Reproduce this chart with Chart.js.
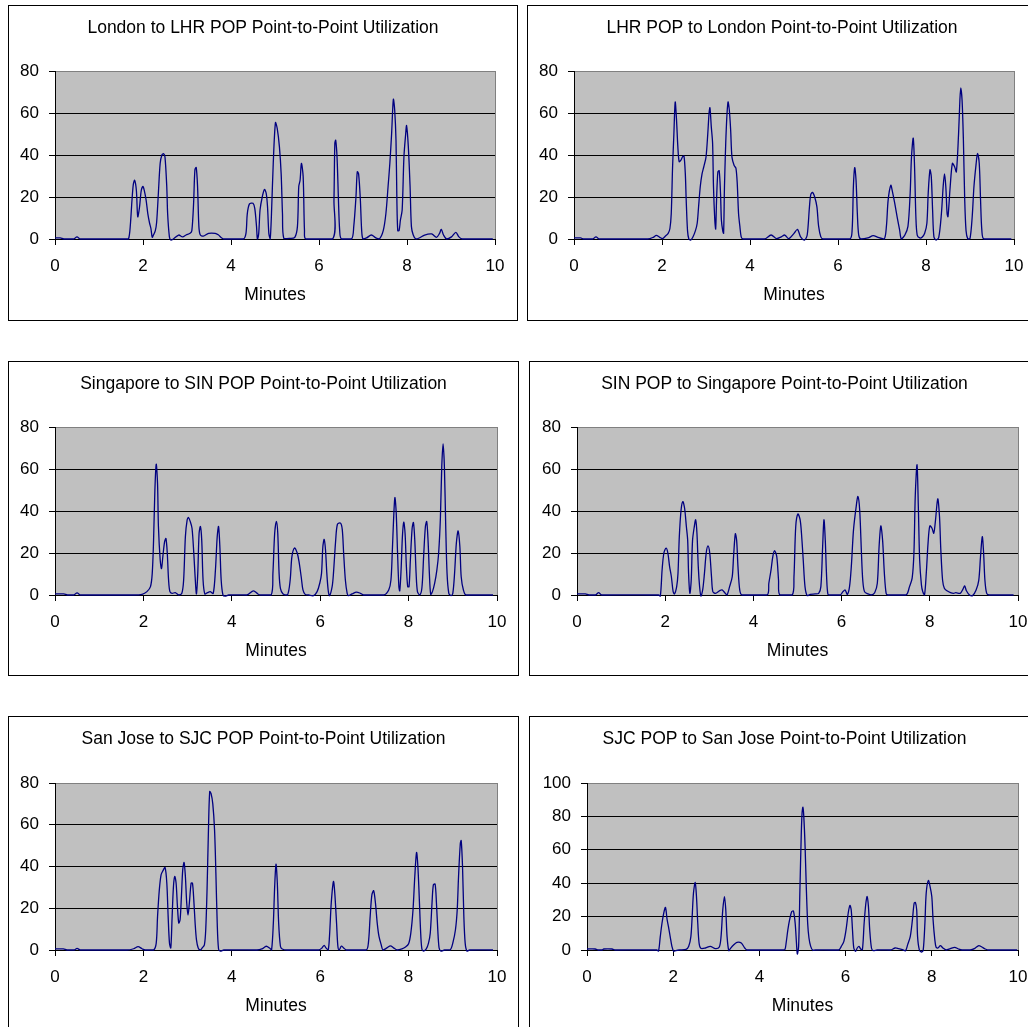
<!DOCTYPE html>
<html>
<head>
<meta charset="utf-8">
<script src="https://cdn.jsdelivr.net/npm/chart.js@4.4.1/dist/chart.umd.min.js"></script>
<style>
  html, body { margin: 0; padding: 0; background: #fff; width: 1028px; height: 1027px; overflow: hidden; }
  .panel { position: absolute; border: 1px solid #000; box-sizing: border-box; background: #fff; }
  .panel canvas { position: absolute; left: 0; top: 0; }
</style>
</head>
<body>
<div class="panel" id="p0"><canvas id="c0"></canvas></div>
<div class="panel" id="p1"><canvas id="c1"></canvas></div>
<div class="panel" id="p2"><canvas id="c2"></canvas></div>
<div class="panel" id="p3"><canvas id="c3"></canvas></div>
<div class="panel" id="p4"><canvas id="c4"></canvas></div>
<div class="panel" id="p5"><canvas id="c5"></canvas></div>
<script>
// ---- titles and axis ticks ----
const chartTitles = [
  'London to LHR POP Point-to-Point Utilization',
  'LHR POP to London Point-to-Point Utilization',
  'Singapore to SIN POP Point-to-Point Utilization',
  'SIN POP to Singapore Point-to-Point Utilization',
  'San Jose to SJC POP Point-to-Point Utilization',
  'SJC POP to San Jose Point-to-Point Utilization'
];
const xAxisTitle = 'Minutes';
const minuteTicks = [0, 2, 4, 6, 8, 10];
const utilTicks80 = [0, 20, 40, 60, 80];
const utilTicks100 = [0, 20, 40, 60, 80, 100];

// ---- utilization samples: [minute, utilization] ----
const londonToLhr = [
  [0,0.5],[0.12,0.5],[0.2,0],[0.42,0],[0.5,1],[0.58,0],[1.6,0],[1.67,0],[1.71,6],[1.75,18.6],[1.78,26],[1.81,28],
  [1.85,23],[1.88,10.6],[1.92,15],[1.96,23],[2.0,25],[2.03,23],[2.07,18.6],[2.11,12],[2.15,7.5],[2.18,5],[2.21,0.8],
  [2.24,2],[2.28,4],[2.31,8],[2.35,22],[2.39,36],[2.43,40],[2.47,40.6],[2.5,39],[2.54,25],[2.56,12],[2.6,1],[2.63,-0.5],
  [2.69,0],[2.81,1.9],[2.9,1],[2.98,1.9],[3.07,2.7],[3.11,4],[3.15,17],[3.18,33],[3.21,34],[3.24,25],[3.27,6],[3.3,2],
  [3.37,1.4],[3.49,2.7],[3.64,2.7],[3.71,2],[3.79,0.5],[3.84,0],[4.28,0],[4.34,2.7],[4.37,12],[4.42,16.7],[4.5,17],
  [4.54,14.6],[4.58,6],[4.6,0],[4.63,2.7],[4.66,13.8],[4.71,20],[4.76,23.6],[4.8,21.7],[4.83,15.4],[4.86,2.7],[4.89,0],
  [4.92,12],[4.96,36],[5.01,55.4],[5.05,52.7],[5.1,44],[5.14,31],[5.17,12],[5.2,0.3],[5.34,0.3],[5.45,0.8],[5.51,6],
  [5.54,25],[5.57,28],[5.6,36],[5.64,29.7],[5.67,4],[5.7,0],[6.31,0],[6.34,18.6],[6.36,45.6],[6.38,47],[6.41,39],
  [6.44,20],[6.47,4],[6.51,0],[6.74,0],[6.79,6],[6.84,20],[6.87,32],[6.9,31],[6.94,18.6],[6.97,4],[7.0,0],[7.08,0.5],
  [7.19,1.9],[7.29,0.5],[7.37,0],[7.46,4],[7.52,12],[7.57,25],[7.61,36],[7.65,50],[7.69,66.5],[7.72,61.4],[7.75,47],
  [7.77,18.6],[7.79,4],[7.82,4],[7.85,9],[7.89,13.8],[7.93,39],[7.97,50],[7.99,54],[8.03,44],[8.07,25],[8.1,6],[8.14,2],
  [8.2,0],[8.29,0.6],[8.4,1.9],[8.56,2.4],[8.67,0.8],[8.74,2.7],[8.78,4.6],[8.83,1.9],[8.9,0],[9.01,1],[9.11,3.2],
  [9.18,1],[9.26,0],[9.95,0]
];
const lhrToLondon = [
  [0,0.5],[0.15,0.5],[0.22,0],[0.42,0],[0.5,1],[0.58,0],[1.68,0],[1.8,0.8],[1.87,1.7],[1.95,0.8],[2.01,0.2],[2.08,1.4],
  [2.14,2.7],[2.18,5],[2.21,12],[2.24,34],[2.27,50],[2.3,65.2],[2.33,56.7],[2.36,44],[2.39,36.8],[2.43,37.6],[2.47,39.2],
  [2.5,39.5],[2.53,31],[2.55,18.6],[2.58,4],[2.61,0],[2.65,-0.5],[2.7,0.8],[2.76,4],[2.8,7.5],[2.83,15],[2.87,25],
  [2.91,31],[2.95,34.4],[3.0,39],[3.04,50],[3.07,60],[3.09,62.5],[3.12,53.5],[3.15,45.6],[3.17,25],[3.2,9],[3.22,4.8],
  [3.24,18.6],[3.27,32],[3.3,32.5],[3.33,21.7],[3.35,9],[3.38,4],[3.4,2.7],[3.42,25],[3.46,52],[3.5,65.2],[3.53,61.4],
  [3.56,52],[3.59,39],[3.64,35],[3.68,33.7],[3.71,26.5],[3.74,12],[3.77,6],[3.8,1],[3.84,0],[4.33,0],[4.48,1.9],
  [4.6,0.2],[4.71,1],[4.79,1.9],[4.88,0.2],[5.0,2.7],[5.08,4.6],[5.15,1],[5.24,-0.5],[5.3,1.9],[5.35,15],[5.38,21],
  [5.42,22.2],[5.47,20],[5.52,15.4],[5.56,6],[5.61,1],[5.66,0],[6.27,0],[6.32,4],[6.35,25],[6.38,34],[6.41,28],[6.44,12],
  [6.47,2],[6.52,0],[6.68,0.5],[6.8,1.6],[6.91,0.8],[7.05,0],[7.1,6],[7.14,18.6],[7.2,25.6],[7.23,23.3],[7.29,17],
  [7.35,9.8],[7.4,4.3],[7.44,0],[7.52,1.9],[7.59,6],[7.64,21.7],[7.67,39],[7.71,48],[7.74,34.4],[7.77,10.6],[7.8,1.9],
  [7.86,0.5],[7.91,0.8],[7.97,2.7],[8.02,7.5],[8.05,21.7],[8.09,32.9],[8.12,29.7],[8.15,13.8],[8.18,1],[8.23,-0.5],
  [8.29,0.8],[8.35,12],[8.39,25],[8.42,31],[8.45,25],[8.48,12],[8.5,10.6],[8.55,25],[8.6,36],[8.65,34.4],[8.69,32],
  [8.74,50],[8.77,66],[8.79,72],[8.82,66],[8.85,47],[8.88,18.6],[8.91,4],[8.95,0],[9.0,0.2],[9.05,10.6],[9.09,25],
  [9.14,36],[9.17,40.8],[9.21,36],[9.24,18.6],[9.27,4],[9.32,0],[9.94,0]
];
const singaporeToSin = [
  [0,0.5],[0.2,0.5],[0.28,0],[0.42,0],[0.5,1],[0.58,0],[1.78,0],[1.97,0.3],[2.08,1.6],[2.16,4],[2.2,10.3],[2.23,26],
  [2.26,50],[2.29,62.3],[2.32,53],[2.34,32.6],[2.38,16.7],[2.41,12.6],[2.44,18.3],[2.48,25.4],[2.51,26.9],[2.54,20],
  [2.57,7],[2.6,1.6],[2.65,0.8],[2.72,1.1],[2.8,0],[2.87,0.8],[2.91,7],[2.95,27.8],[2.99,35.8],[3.02,36.9],[3.06,35],
  [3.1,31.8],[3.14,20],[3.17,8.7],[3.2,0.5],[3.23,10.3],[3.26,29.4],[3.29,32.6],[3.32,26],[3.35,7],[3.39,0.5],[3.45,1.1],
  [3.51,1.6],[3.58,0.8],[3.63,12],[3.67,27.8],[3.7,32.6],[3.73,23],[3.76,7],[3.8,0],[3.85,-0.5],[3.93,0],[4.34,0],
  [4.49,2],[4.59,0.5],[4.65,0],[4.89,0],[4.93,10.3],[4.97,29.4],[5.01,35.1],[5.04,29.4],[5.07,10.3],[5.1,3.2],[5.16,0.5],
  [5.26,0],[5.32,7],[5.36,18.3],[5.42,22.4],[5.48,20],[5.52,16],[5.57,8.7],[5.61,2.4],[5.66,0.3],[5.74,0],[5.85,-0.3],
  [5.93,1.6],[5.99,5.6],[6.03,10.3],[6.06,23],[6.09,26.5],[6.12,21.5],[6.15,10.3],[6.18,2.4],[6.21,-0.3],[6.27,4],
  [6.3,10.3],[6.35,26],[6.39,33.7],[6.46,34.2],[6.5,31],[6.53,20],[6.57,7],[6.61,0.8],[6.64,-0.3],[6.72,0.5],[6.82,1.4],
  [6.91,0.8],[6.98,0],[7.44,0],[7.55,2.4],[7.6,7],[7.63,20],[7.66,35.8],[7.69,46.4],[7.72,39],[7.75,20],[7.78,4],[7.8,2],
  [7.83,12],[7.86,27.8],[7.89,34.7],[7.92,29.4],[7.95,13.5],[7.98,4],[8.01,4],[8.04,16.7],[8.08,31.8],[8.11,34.5],
  [8.14,26],[8.17,10.3],[8.2,1.6],[8.25,0],[8.3,3.2],[8.34,18.3],[8.38,32.6],[8.41,35],[8.44,26],[8.47,10.3],[8.5,0.3],
  [8.54,1.6],[8.59,5.6],[8.64,12],[8.68,20],[8.72,37],[8.75,61],[8.78,72],[8.81,61],[8.84,32.6],[8.87,10.3],[8.91,0.8],
  [8.96,-0.3],[9.0,0.8],[9.04,10.3],[9.08,24.6],[9.12,30.5],[9.16,23],[9.19,8.7],[9.24,2.4],[9.3,0],[9.91,0]
];
const sinToSingapore = [
  [0,0.5],[0.19,0.5],[0.27,0],[0.42,0],[0.49,1.1],[0.56,0],[1.85,0],[1.89,-0.5],[1.93,12],[1.97,20],[2.02,22.3],[2.06,20],
  [2.1,13.5],[2.14,8.7],[2.18,1.6],[2.21,0.5],[2.26,4],[2.29,10.3],[2.32,27.8],[2.36,40.5],[2.4,44.5],[2.44,41.3],
  [2.48,32.6],[2.51,26],[2.53,10.3],[2.56,0.8],[2.59,7],[2.62,26],[2.66,32.6],[2.69,35.8],[2.72,29.4],[2.75,13.5],[2.78,4],
  [2.81,-0.5],[2.85,2.4],[2.89,10.3],[2.93,20],[2.97,23.4],[3.01,20],[3.05,8.7],[3.08,1.6],[3.14,0.8],[3.23,2],[3.29,2.4],
  [3.35,1.1],[3.4,0],[3.46,4],[3.52,8.7],[3.55,18.3],[3.59,29.1],[3.62,26],[3.65,13.5],[3.69,2.4],[3.74,0],[4.31,0],
  [4.35,5.6],[4.4,12],[4.44,18.3],[4.48,21.1],[4.53,18.3],[4.57,7],[4.6,0],[4.88,0],[4.92,8.7],[4.96,32.6],[5.01,38.6],
  [5.06,35.8],[5.09,29.4],[5.13,16.7],[5.17,4],[5.22,-0.3],[5.29,0.3],[5.4,0.5],[5.48,0.8],[5.53,4],[5.57,23],[5.6,35.8],
  [5.63,26],[5.66,8.7],[5.69,0.3],[5.74,0],[5.97,0],[6.03,1.6],[6.08,2.4],[6.13,0.3],[6.18,4],[6.22,13.5],[6.27,31],
  [6.33,42],[6.37,46.9],[6.41,40.5],[6.45,20],[6.48,7],[6.52,1.6],[6.6,0.5],[6.67,0],[6.75,1.1],[6.81,5.6],[6.85,23],
  [6.89,32.9],[6.93,26],[6.97,10.3],[7.01,0.8],[7.05,0],[7.46,0],[7.54,4],[7.6,8],[7.64,20],[7.67,46.9],[7.71,62],
  [7.74,42],[7.77,16.7],[7.81,4.8],[7.84,1.6],[7.88,0],[7.92,10.3],[7.96,24.6],[8.0,32.9],[8.05,31.8],[8.09,29.4],
  [8.13,35.8],[8.18,45.8],[8.22,37.4],[8.25,21.5],[8.29,7],[8.33,3.2],[8.39,2],[8.47,1.1],[8.54,0.8],[8.59,1.1],[8.69,0.8],
  [8.75,2.7],[8.79,4.3],[8.83,2],[8.9,0],[8.97,-0.3],[9.05,2.4],[9.11,7],[9.15,18.3],[9.19,27.8],[9.22,20],[9.25,7],
  [9.29,0.8],[9.35,0],[9.9,0]
];
const sanJoseToSjc = [
  [0,0.5],[0.19,0.5],[0.27,0],[0.43,0],[0.5,0.8],[0.57,0],[1.63,0],[1.78,0.6],[1.88,1.6],[1.97,0.6],[2.04,0],[2.23,0],
  [2.29,3.3],[2.32,16],[2.36,28.8],[2.4,36],[2.44,37.9],[2.49,39.5],[2.53,32],[2.56,16],[2.59,3.3],[2.62,1],[2.65,16],
  [2.68,30.4],[2.71,35.2],[2.74,32],[2.77,20.9],[2.8,12.9],[2.83,14.5],[2.86,25.7],[2.89,38.4],[2.92,41.9],[2.95,35.2],
  [2.98,22.5],[3.01,16.7],[3.04,22.5],[3.08,32],[3.11,32],[3.14,24],[3.17,12.9],[3.2,5],[3.24,1],[3.29,0],[3.33,1],
  [3.38,2.5],[3.41,9.7],[3.44,28.8],[3.47,56],[3.5,75.9],[3.53,75],[3.57,70],[3.61,57.5],[3.64,36.8],[3.67,12.9],[3.7,0.5],
  [3.74,-0.5],[3.82,0],[4.57,0],[4.68,0.5],[4.78,1.8],[4.86,0.8],[4.9,0],[4.94,12.9],[4.97,30.4],[5.0,41.1],[5.03,32],
  [5.06,12.9],[5.1,1.8],[5.14,0.5],[5.25,0],[5.97,0],[6.04,1],[6.09,2.2],[6.13,1],[6.18,0],[6.21,6.5],[6.25,22.5],
  [6.3,32.8],[6.33,27.2],[6.37,12.9],[6.4,1.8],[6.43,0],[6.48,1.9],[6.53,1],[6.59,0],[7.04,0],[7.09,3.3],[7.13,16],
  [7.17,26.5],[7.21,28.4],[7.25,22.5],[7.29,12.9],[7.33,6.5],[7.38,2.5],[7.42,0],[7.51,1],[7.59,2],[7.66,1],[7.74,0],
  [7.85,0.5],[7.93,1.4],[8.0,3],[8.05,8.1],[8.1,19.3],[8.14,35.2],[8.18,46.7],[8.21,40],[8.24,25.7],[8.27,9.7],[8.3,0.5],
  [8.34,-0.5],[8.4,0.5],[8.45,3.3],[8.49,8.1],[8.53,22.5],[8.56,31.2],[8.6,31.6],[8.63,22.5],[8.66,9.7],[8.69,1],
  [8.73,-0.5],[8.81,0],[8.94,0],[9.0,3.3],[9.06,9.7],[9.1,19.3],[9.13,35.2],[9.17,51],[9.19,52.4],[9.22,40],[9.25,16],
  [9.28,3.3],[9.32,-0.5],[9.38,0],[9.91,0]
];
const sjcToSanJose = [
  [0,0.6],[0.19,0.6],[0.26,0],[0.35,0],[0.39,0.6],[0.58,0.6],[0.66,0],[1.62,0],[1.66,-0.6],[1.7,8],[1.74,16],[1.78,22],
  [1.82,25.5],[1.86,18],[1.89,14],[1.93,8],[1.97,2.2],[2.01,-0.8],[2.06,-0.4],[2.14,0],[2.3,0.4],[2.36,2.2],[2.41,8],
  [2.44,20],[2.47,34],[2.51,40.4],[2.54,32],[2.57,16],[2.6,4.2],[2.64,1],[2.75,1.2],[2.86,2.2],[2.98,0.8],[3.07,1.8],
  [3.11,8],[3.15,24],[3.19,32],[3.22,24],[3.25,8],[3.29,-0.4],[3.33,1],[3.4,3],[3.48,4.6],[3.58,4.2],[3.66,1.2],[3.71,0],
  [4.52,0],[4.59,0.2],[4.62,4.2],[4.66,12],[4.7,18],[4.75,23],[4.79,23.3],[4.83,16],[4.86,4.2],[4.88,-2.4],[4.91,2.2],
  [4.94,36],[4.97,68],[4.99,82],[5.01,85.5],[5.03,80],[5.06,62],[5.09,36],[5.12,16],[5.15,7.2],[5.19,2.2],[5.24,-0.2],
  [5.3,0],[5.84,0],[5.9,2.2],[5.96,5.2],[6.01,12],[6.06,22],[6.1,26.7],[6.13,24],[6.16,12],[6.19,1.2],[6.23,-0.8],
  [6.27,1.2],[6.31,2.2],[6.35,0.6],[6.39,0.2],[6.43,16],[6.47,28],[6.5,32],[6.53,26],[6.56,12],[6.6,1.2],[6.64,-0.4],
  [6.73,0],[7.04,0],[7.15,1.2],[7.23,0.8],[7.32,0.2],[7.39,-0.4],[7.44,3.2],[7.5,8],[7.55,18],[7.59,28],[7.62,28.5],
  [7.65,24],[7.67,8],[7.71,0.2],[7.76,-1.2],[7.8,-0.2],[7.84,16],[7.87,34],[7.92,41.6],[7.96,38],[8.0,32],[8.03,18],
  [8.07,6.2],[8.1,1.6],[8.14,1.2],[8.2,2.6],[8.25,1.4],[8.33,0],[8.43,0.8],[8.53,1.6],[8.62,0.6],[8.7,0],[8.89,0],
  [9.0,1],[9.09,2.6],[9.16,1.8],[9.24,0.6],[9.32,0],[9.98,0]
];

// ---- page layout: outer frame [x, y, w, h] and plot rectangle [left, top, right, bottom] ----
const FONT = "'Liberation Sans', Arial, Helvetica, sans-serif";
const panels = [
  { frame: [8, 5, 510, 316],   plot: [55, 71, 495, 239],   series: londonToLhr,    yTicks: utilTicks80 },
  { frame: [527, 5, 510, 316], plot: [574, 71, 1014, 239], series: lhrToLondon,    yTicks: utilTicks80 },
  { frame: [8, 361, 511, 315], plot: [55, 427, 497, 595],  series: singaporeToSin, yTicks: utilTicks80 },
  { frame: [529, 361, 511, 315], plot: [577, 427, 1018, 595], series: sinToSingapore, yTicks: utilTicks80 },
  { frame: [8, 716, 511, 316], plot: [55, 783, 497, 950],  series: sanJoseToSjc,   yTicks: utilTicks80 },
  { frame: [529, 716, 511, 316], plot: [587, 783, 1018, 950], series: sjcToSanJose, yTicks: utilTicks100 }
];

// grey plot background with a grey right-hand edge
const plotFrame = {
  id: 'plotFrame',
  beforeDraw(chart) {
    const { ctx, chartArea: a } = chart;
    ctx.save();
    ctx.fillStyle = '#c0c0c0';
    ctx.fillRect(a.left, a.top, a.right - a.left, a.bottom - a.top);
    ctx.restore();
  },
  beforeDatasetsDraw(chart) {
    const { ctx, chartArea: a } = chart;
    ctx.save();
    ctx.strokeStyle = '#808080';
    ctx.lineWidth = 1;
    ctx.beginPath();
    ctx.moveTo(Math.round(a.right) + 0.5, a.top);
    ctx.lineTo(Math.round(a.right) + 0.5, a.bottom);
    ctx.stroke();
    ctx.restore();
  }
};

panels.forEach((p, i) => {
  const [fx, fy, fw, fh] = p.frame;
  const div = document.getElementById('p' + i);
  div.style.left = fx + 'px';
  div.style.top = fy + 'px';
  div.style.width = fw + 'px';
  div.style.height = fh + 'px';

  const cw = fw - 2, ch = fh - 2;
  const ox = fx + 1, oy = fy + 1;
  const areaL = p.plot[0] - ox, areaT = p.plot[1] - oy, areaR = p.plot[2] - ox, areaB = p.plot[3] - oy;
  const rightGap = cw - areaR;      // kept by an empty right-hand axis so the title spans the whole frame
  const xAxisH = ch - areaB;
  const titleMid = 21.8;
  const yMax = p.yTicks[p.yTicks.length - 1];

  const canvas = document.getElementById('c' + i);
  canvas.width = cw; canvas.height = ch;
  canvas.style.width = cw + 'px'; canvas.style.height = ch + 'px';

  new Chart(canvas, {
    type: 'line',
    data: {
      datasets: [{
        data: p.series.map(([x, y]) => ({ x, y })),
        borderColor: '#000080',
        borderWidth: 1.3,
        pointRadius: 0,
        tension: 0.3,
        fill: false,
        clip: false
      }]
    },
    options: {
      responsive: false,
      animation: false,
      events: [],
      devicePixelRatio: 1,
      elements: { line: { capBezierPoints: true } },
      layout: { padding: 0 },
      plugins: {
        legend: { display: false },
        tooltip: { enabled: false },
        title: {
          display: true,
          text: chartTitles[i],
          color: '#000',
          font: { family: FONT, size: 17.5, weight: 'normal', lineHeight: 1.2 },
          padding: { top: titleMid - 10.5, bottom: areaT - titleMid - 10.5 }
        }
      },
      scales: {
        x: {
          type: 'linear',
          min: 0, max: 10,
          afterBuildTicks: (axis) => { axis.ticks = minuteTicks.map(v => ({ value: v })); },
          afterFit: (axis) => { axis.height = xAxisH; },
          grid: { drawOnChartArea: false, drawTicks: true, tickLength: 6, tickColor: '#000', tickWidth: 1 },
          border: { display: true, color: '#000', width: 1 },
          ticks: { color: '#000', font: { family: FONT, size: 17 }, padding: 11, maxRotation: 0, autoSkip: false },
          title: {
            display: true, text: xAxisTitle, color: '#000',
            font: { family: FONT, size: 17.5, weight: 'normal', lineHeight: 1.2 },
            padding: { top: 0, bottom: xAxisH - 56.5 - 10.5 }
          }
        },
        y: {
          type: 'linear',
          position: 'left',
          min: 0, max: yMax,
          afterBuildTicks: (axis) => { axis.ticks = p.yTicks.map(v => ({ value: v })); },
          afterFit: (axis) => { axis.width = areaL; },
          grid: {
            color: (ctx) => (ctx.tick && ctx.tick.value === yMax) ? '#808080' : '#000',
            lineWidth: 1, drawTicks: true, tickLength: 6, tickColor: '#000', tickWidth: 1
          },
          border: { display: true, color: '#000', width: 1 },
          ticks: { color: '#000', font: { family: FONT, size: 17 }, padding: 10 }
        },
        rightGap: {
          type: 'linear',
          position: 'right',
          min: 0, max: yMax,
          afterFit: (axis) => { axis.width = rightGap; },
          grid: { display: false, drawOnChartArea: false, drawTicks: false },
          border: { display: false },
          ticks: { display: false }
        }
      }
    },
    plugins: [plotFrame]
  });
});
</script>
</body>
</html>
